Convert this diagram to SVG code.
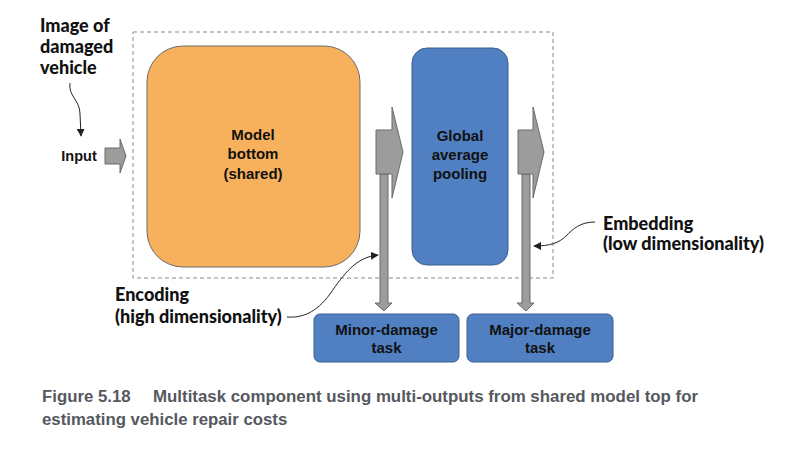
<svg xmlns="http://www.w3.org/2000/svg" width="807" height="457" viewBox="0 0 807 457">
<defs>
<style>
.ann{font-family:Lato,"Open Sans",sans-serif;font-weight:900;font-size:18px;fill:#111}
.lbl{font-family:"Liberation Sans",Arial,sans-serif;font-weight:bold;font-size:15px;fill:#111;text-anchor:middle}
.cap{font-family:"Liberation Sans",Arial,sans-serif;font-weight:bold;font-size:16.8px;fill:#55585e}
.blk{fill:#f7b05b;stroke:#6b6b6b;stroke-width:1}
.blue{fill:#5080c1;stroke:#3d5f8e;stroke-width:1}
.garrow{fill:#9c9c9c;stroke:#6a6a6a;stroke-width:1}
.curve{fill:none;stroke:#222;stroke-width:1;marker-end:url(#ah)}
</style>
<marker id="ah" viewBox="0 0 10 10" refX="9" refY="5" markerWidth="8" markerHeight="8" markerUnits="userSpaceOnUse" orient="auto">
<path d="M0,0 L10,5 L0,10 z" fill="#222"/>
</marker>
</defs>
<rect width="807" height="457" fill="#fff"/>
<rect id="container" x="133" y="32" width="420" height="246" fill="none" stroke="#8a8a8a" stroke-width="1" stroke-dasharray="4,3"/>
<g id="model-bottom">
<rect class="blk" x="147" y="46" width="213" height="221" rx="36" ry="36"/>
<text class="lbl" x="253" y="140">Model</text>
<text class="lbl" x="253" y="159">bottom</text>
<text class="lbl" x="253" y="179">(shared)</text>
</g>
<g id="global-average-pooling">
<rect class="blue" x="412" y="48" width="96" height="217" rx="15" ry="15"/>
<text class="lbl" x="460" y="141">Global</text>
<text class="lbl" x="460" y="160">average</text>
<text class="lbl" x="460" y="179">pooling</text>
</g>
<g id="minor-damage-task">
<rect class="blue" x="314" y="314" width="145" height="48" rx="6" ry="6"/>
<text class="lbl" x="386.5" y="335">Minor-damage</text>
<text class="lbl" x="386.5" y="353">task</text>
</g>
<g id="major-damage-task">
<rect class="blue" x="467" y="314" width="146" height="48" rx="6" ry="6"/>
<text class="lbl" x="540" y="335">Major-damage</text>
<text class="lbl" x="540" y="353">task</text>
</g>
<g id="input-label">
<text class="lbl" x="79" y="161" style="font-size:14.5px">Input</text>
</g>
<g id="annotations">
<text class="ann" x="40" y="32">Image of</text>
<text class="ann" x="40" y="53">damaged</text>
<text class="ann" x="40" y="74">vehicle</text>
<text class="ann" x="603" y="230">Embedding</text>
<text class="ann" x="603" y="250">(low dimensionality)</text>
<text class="ann" x="115" y="301">Encoding</text>
<text class="ann" x="115" y="323">(high dimensionality)</text>
</g>
<g id="connectors">
<path class="garrow" d="M380,174 L388,174 L388,303 L392,303 L384,311 L375,303 L380,303 z"/>
<path class="garrow" d="M522,174 L530,174 L530,303 L534,303 L526,311 L517,303 L522,303 z"/>
<path class="garrow" d="M105,148 L120,148 L120,139 L126,156 L120,173 L120,164 L105,164 z"/>
<path class="garrow" d="M376,130 L392,130 L392,107 L403,152 L392,198 L392,174 L376,174 z"/>
<path class="garrow" d="M518,130 L533,130 L533,107 L544,152 L533,198 L533,174 L518,174 z"/>
<path class="curve" d="M70,83 C68,96 80,100 80,114 L81,136"/>
<path class="curve" d="M287,317 C302,318 316,313 330,294 C344,274 356,257 378,255"/>
<path class="curve" d="M595,222 C580,222 573,229 566,236 C559,243 550,246 534,246"/>
</g>
<g id="caption">
<text class="cap" x="42" y="402">Figure 5.18</text>
<text class="cap" x="153" y="402" textLength="545" lengthAdjust="spacingAndGlyphs">Multitask component using multi-outputs from shared model top for</text>
<text class="cap" x="42" y="425">estimating vehicle repair costs</text>
</g>
</svg>
